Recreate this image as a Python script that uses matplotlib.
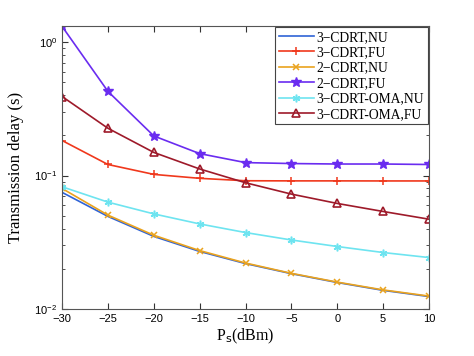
import matplotlib

matplotlib.use("Agg")
import matplotlib.pyplot as plt
from matplotlib.ticker import LogLocator, NullFormatter

ps_dbm = [-30, -25, -20, -15, -10, -5, 0, 5, 10]

# transmission delay (s)
cdrt3_nu = [0.0748, 0.0494, 0.0350, 0.0270, 0.0219, 0.0184, 0.0158, 0.0138, 0.0124]
cdrt3_fu = [0.183, 0.121, 0.102, 0.0953, 0.0914, 0.0912, 0.0912, 0.0911, 0.0911]
cdrt2_nu = [0.0800, 0.0505, 0.0357, 0.0274, 0.0221, 0.0185, 0.0159, 0.0139, 0.0125]
cdrt2_fu = [1.31, 0.427, 0.198, 0.146, 0.125, 0.123, 0.122, 0.122, 0.121]
oma_nu = [0.0824, 0.0632, 0.0516, 0.0434, 0.0374, 0.0329, 0.0294, 0.0265, 0.0243]
oma_fu = [0.391, 0.226, 0.149, 0.112, 0.0883, 0.0726, 0.0618, 0.0538, 0.0471]

series = [
    ("3\u2212CDRT,NU", cdrt3_nu, "#2f63d6", None),
    ("3\u2212CDRT,FU", cdrt3_fu, "#f0381c", "+"),
    ("2\u2212CDRT,NU", cdrt2_nu, "#eaa31e", "x"),
    ("2\u2212CDRT,FU", cdrt2_fu, "#6a2cf0", "*"),
    ("3\u2212CDRT-OMA,NU", oma_nu, "#6ee4f0", (6, 2, 0)),
    ("3\u2212CDRT-OMA,FU", oma_fu, "#9e1a2a", "^"),
]

fig = plt.figure(figsize=(4.74, 3.56), dpi=100)
ax = fig.add_axes([0.131, 0.132, 0.774, 0.795])

for label, vals, color, marker in series:
    kw = dict(color=color, lw=1.2, label=label)
    if marker == "^":
        kw.update(marker="^", ms=5.5, mfc="none", mew=1.2)
    elif marker == "*":
        kw.update(marker="*", ms=7.5)
    elif marker == "x":
        kw.update(marker="x", ms=4.5, mew=1.1)
    elif marker is not None:
        kw.update(marker=marker, ms=5.5, mew=1.1)
    ax.plot(ps_dbm, vals, **kw)

ax.set_yscale("log")
ax.set_xlim(-30, 10)
ax.set_ylim(0.01, 1.32)
ax.set_xticks(ps_dbm)
ax.yaxis.set_minor_locator(LogLocator(base=10, subs=range(2, 10)))
ax.yaxis.set_minor_formatter(NullFormatter())
ax.tick_params(which="both", direction="in", top=True, right=True,
               labelsize=8, colors="#333333", labelcolor="black")
ax.tick_params(which="major", length=4)
ax.tick_params(which="minor", length=2)
for lab in ax.get_xticklabels() + ax.get_yticklabels():
    lab.set_family("Liberation Sans")
for sp in ax.spines.values():
    sp.set_color("#555555")
    sp.set_linewidth(0.8)

ax.set_xlabel("P$_\\mathrm{s}$(dBm)", fontfamily="Liberation Serif", fontsize=11.5,
              labelpad=2)
ax.set_ylabel("Transmission delay (s)", fontfamily="Liberation Serif", fontsize=12,
              labelpad=7)

leg = ax.legend(loc="upper right", prop={"family": "Liberation Serif", "size": 9.8},
                handlelength=2.6, handletextpad=0.2, labelspacing=0.18,
                borderpad=0.25, borderaxespad=0.1, fancybox=False,
                framealpha=1, edgecolor="#444444")
leg.get_frame().set_linewidth(0.8)

fig.savefig("out.png", dpi=100)
